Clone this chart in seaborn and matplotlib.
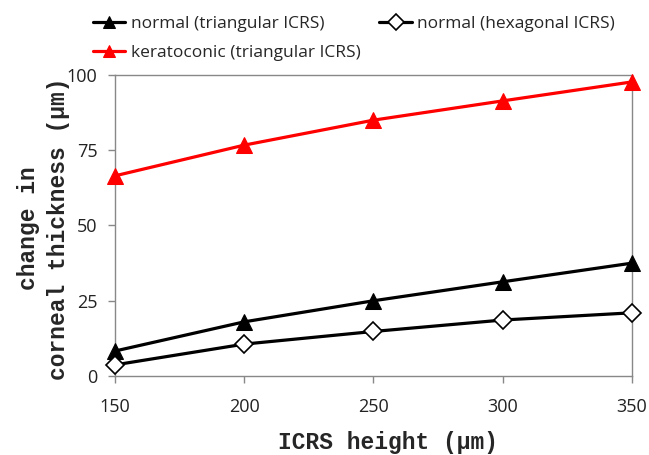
import matplotlib
matplotlib.use("Agg")
import matplotlib.pyplot as plt
import seaborn as sns
import pandas as pd

heights = [150, 200, 250, 300, 350]
normal_tri = [8.3, 18.0, 25.0, 31.3, 37.5]
normal_hex = [3.7, 10.6, 14.8, 18.6, 21.0]
kerato_tri = [66.5, 76.7, 85.0, 91.4, 97.7]
labels = ["normal (triangular ICRS)", "normal (hexagonal ICRS)", "keratoconic (triangular ICRS)"]
yticks = [0, 25, 50, 75, 100]
xticks = [150, 200, 250, 300, 350]

sns.set_style("white")
plt.rcParams['font.family'] = ['Open Sans', 'DejaVu Sans']

fig = plt.figure(figsize=(6.49, 4.55), dpi=100)
ax = fig.add_axes([0.1772, 0.1736, 0.7966, 0.6616])

df = pd.DataFrame({"h": heights, "a": normal_tri, "b": normal_hex, "c": kerato_tri})
sns.lineplot(data=df, x="h", y="a", ax=ax, color="black", lw=2.3, marker="^",
             markersize=11, markeredgecolor="black", label=labels[0], clip_on=False, zorder=3)
sns.lineplot(data=df, x="h", y="b", ax=ax, color="black", lw=2.3, marker="D",
             markersize=9, markerfacecolor="white", markeredgecolor="black",
             markeredgewidth=1.2, label=labels[1], clip_on=False, zorder=3)
sns.lineplot(data=df, x="h", y="c", ax=ax, color="#ff0000", lw=2.3, marker="^",
             markersize=11, markeredgecolor="#ff0000", label=labels[2], clip_on=False, zorder=3)

ax.set_xlim(150, 350)
ax.set_ylim(0, 100)
ax.set_xticks(xticks)
ax.set_yticks(yticks)
ax.tick_params(axis="both", labelsize=13, length=5, width=1, color="#888888", direction="out",
               bottom=True, left=True, labelcolor="#222222")
ax.tick_params(axis="x", pad=11)
ax.tick_params(axis="y", pad=7.5)
for s in ax.spines.values():
    s.set_color("#888888")
    s.set_linewidth(1.0)

mono = {"family": "Liberation Mono", "weight": "bold", "size": 16.5}
ax.set_xlabel("ICRS height (µm)", fontdict=mono)
ax.xaxis.set_label_coords(0.528, -0.222, transform=ax.transAxes)
ax.xaxis.label.set_va("center")
ax.set_ylabel("change in\ncorneal thickness (µm)", fontdict=mono, linespacing=1.4)
ax.yaxis.set_label_coords(-0.138, 0.49, transform=ax.transAxes)
ax.yaxis.label.set_va("center")

handles, lbls = ax.get_legend_handles_labels()
ax.legend_.remove()
order = [0, 2, 1]
leg_font = 12.5
fig.legend([handles[i] for i in order], [lbls[i] for i in order], ncol=2,
           loc="upper left", bbox_to_anchor=(0.125, 0.991), frameon=False,
           prop={"family": "Open Sans", "size": leg_font},
           handlelength=1.85, handletextpad=0.3, columnspacing=1.1,
           labelspacing=0.7, markerscale=0.85, borderpad=0.2)

fig.savefig("out.png", dpi=100)
